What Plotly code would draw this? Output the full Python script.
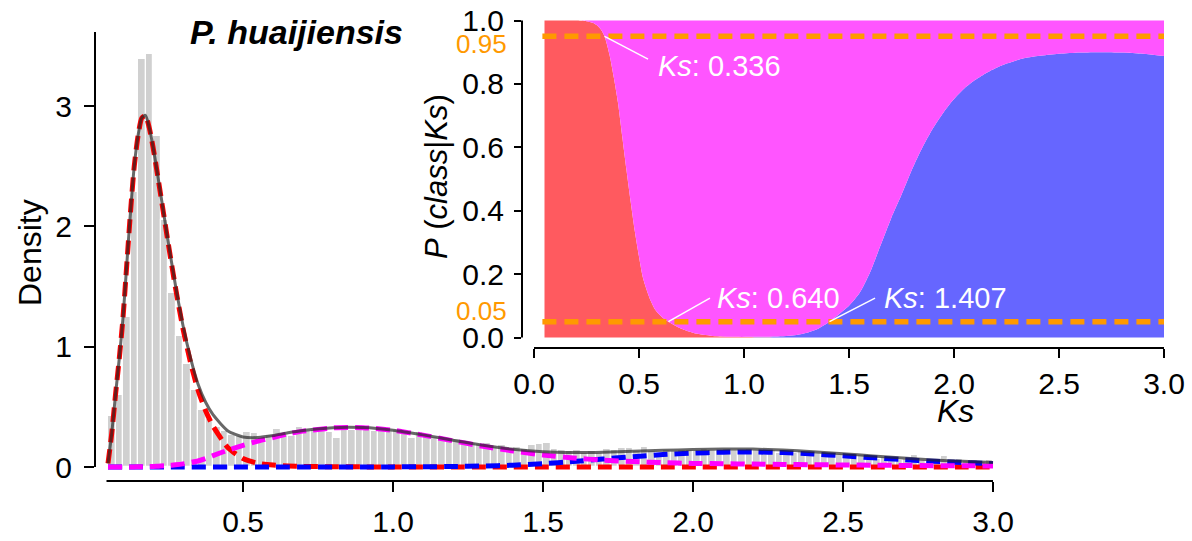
import plotly.graph_objects as go

W, H = 1192, 541
FONT = "Liberation Sans, Arial, Helvetica, sans-serif"

# ---- Ks histogram (density), bins of width 0.025 starting at Ks = 0.05 ----
BIN_START = 0.05
BIN_WIDTH = 0.025
ks_density = [
    0.42, 0.60, 1.25, 2.29, 3.39, 3.43, 2.75, 2.05, 1.45, 1.09,
    0.86, 0.64, 0.47, 0.40, 0.33, 0.30, 0.27, 0.26, 0.29, 0.28,
    0.24, 0.27, 0.32, 0.27, 0.26, 0.33, 0.30, 0.31, 0.31, 0.29,
    0.24, 0.32, 0.31, 0.33, 0.31, 0.30, 0.32, 0.30, 0.31, 0.28,
    0.24, 0.29, 0.26, 0.25, 0.23, 0.22, 0.23, 0.21, 0.20, 0.19,
    0.20, 0.17, 0.18, 0.16, 0.17, 0.15, 0.18, 0.19, 0.20, 0.15,
    0.14, 0.13, 0.14, 0.12, 0.13, 0.12, 0.15, 0.14, 0.16, 0.16,
    0.13, 0.17, 0.13, 0.12, 0.14, 0.13, 0.14, 0.14, 0.13, 0.15,
    0.14, 0.13, 0.15, 0.14, 0.13, 0.15, 0.14, 0.13, 0.14, 0.12,
    0.13, 0.12, 0.13, 0.11, 0.12, 0.11, 0.10, 0.11, 0.10, 0.09,
    0.10, 0.08, 0.07, 0.08, 0.07, 0.06, 0.07, 0.10, 0.06, 0.05,
    0.06, 0.09, 0.07, 0.07, 0.05, 0.06, 0.04, 0.06,
]

# ---- fitted mixture components on a Ks grid ----
ks_grid = [
    0.05, 0.0625, 0.075, 0.0875, 0.1, 0.1125, 0.125, 0.1375, 0.15, 0.1625,
    0.175, 0.1875, 0.2, 0.2125, 0.225, 0.25, 0.275, 0.3, 0.325, 0.35,
    0.375, 0.4, 0.45, 0.5, 0.55, 0.6, 0.65, 0.7, 0.8, 0.9,
    1.0, 1.1, 1.2, 1.3, 1.4, 1.5, 1.6, 1.7, 1.8, 1.9,
    2.0, 2.1, 2.2, 2.3, 2.4, 2.5, 2.6, 2.7, 2.8, 2.9, 3.0,
]
fit_early = [
    0.03, 0.28, 0.60, 0.90, 1.24, 1.68, 2.12, 2.50, 2.75, 2.90,
    2.92, 2.82, 2.66, 2.47, 2.27, 1.87, 1.49, 1.15, 0.87, 0.64,
    0.47, 0.34, 0.16, 0.07, 0.03, 0.016, 0.009, 0.005, 0.002, 0.001,
    0.0, 0.0, 0.0, 0.0, 0.0, 0.0, 0.0, 0.0, 0.0, 0.0,
    0.0, 0.0, 0.0, 0.0, 0.0, 0.0, 0.0, 0.0, 0.0, 0.0, 0.0,
]
fit_mid = [
    0.0, 0.0, 0.0, 0.0, 0.0, 0.001, 0.001, 0.001, 0.002, 0.002,
    0.003, 0.004, 0.005, 0.006, 0.008, 0.012, 0.018, 0.026, 0.037, 0.05,
    0.07, 0.095, 0.14, 0.18, 0.215, 0.245, 0.275, 0.298, 0.325, 0.327,
    0.305, 0.265, 0.218, 0.172, 0.133, 0.10, 0.075, 0.057, 0.045, 0.036,
    0.03, 0.027, 0.024, 0.021, 0.019, 0.017, 0.015, 0.013, 0.011, 0.01, 0.009,
]
fit_old = [
    0.0, 0.0, 0.0, 0.0, 0.0, 0.0, 0.0, 0.0, 0.0, 0.0,
    0.0, 0.0, 0.0, 0.0, 0.0, 0.0, 0.0, 0.0, 0.0, 0.0,
    0.0, 0.0, 0.0, 0.0, 0.0, 0.0, 0.0, 0.0, 0.0, 0.0,
    0.001, 0.002, 0.004, 0.008, 0.015, 0.027, 0.045, 0.066, 0.086, 0.103,
    0.115, 0.123, 0.125, 0.12, 0.108, 0.093, 0.077, 0.062, 0.048, 0.037, 0.028,
]

# ---- posterior class probabilities P(class | Ks) ----
post_ks = [
    0.05, 0.1, 0.15, 0.2, 0.25, 0.28, 0.3, 0.32, 0.336, 0.36,
    0.38, 0.4, 0.42, 0.44, 0.46, 0.48, 0.5, 0.52, 0.55, 0.58,
    0.61, 0.64, 0.7, 0.76, 0.85, 0.95, 1.05, 1.15, 1.25, 1.3,
    1.35, 1.407, 1.45, 1.5, 1.55, 1.6, 1.65, 1.7, 1.75, 1.8,
    1.85, 1.9, 1.95, 2.0, 2.05, 2.1, 2.15, 2.2, 2.25, 2.3,
    2.35, 2.4, 2.5, 2.6, 2.7, 2.8, 2.9, 3.0,
]
post_early = [
    1.0, 1.0, 1.0, 1.0, 0.998, 0.993, 0.985, 0.97, 0.95, 0.89,
    0.82, 0.74, 0.635, 0.53, 0.43, 0.335, 0.255, 0.185, 0.125, 0.085,
    0.064, 0.05, 0.028, 0.014, 0.005, 0.002, 0.001, 0.0, 0.0, 0.0,
    0.0, 0.0, 0.0, 0.0, 0.0, 0.0, 0.0, 0.0, 0.0, 0.0,
    0.0, 0.0, 0.0, 0.0, 0.0, 0.0, 0.0, 0.0, 0.0, 0.0,
    0.0, 0.0, 0.0, 0.0, 0.0, 0.0, 0.0, 0.0,
]
post_old = [
    0.0, 0.0, 0.0, 0.0, 0.0, 0.0, 0.0, 0.0, 0.0, 0.0,
    0.0, 0.0, 0.0, 0.0, 0.0, 0.0, 0.0, 0.0, 0.0, 0.0,
    0.0, 0.0, 0.0, 0.0, 0.0, 0.0, 0.001, 0.003, 0.008, 0.015,
    0.027, 0.05, 0.072, 0.10, 0.14, 0.205, 0.29, 0.375, 0.45, 0.53,
    0.60, 0.66, 0.71, 0.752, 0.786, 0.812, 0.833, 0.85, 0.864, 0.875,
    0.883, 0.888, 0.895, 0.899, 0.90, 0.899, 0.895, 0.888,
]

# class boundaries (Ks where the posterior crosses a threshold)
cut_ks = [0.336, 0.640, 1.407]
cut_p = [0.95, 0.05, 0.05]
thresholds = [0.95, 0.05]


def px(x):
    return x / W


def py(y):
    return 1 - y / H


fig = go.Figure()

# histogram
bin_mid = [BIN_START + BIN_WIDTH * (i + 0.5) for i in range(len(ks_density))]
fig.add_trace(go.Bar(
    x=bin_mid, y=ks_density, width=BIN_WIDTH,
    marker=dict(color="#D0D0D0", line=dict(color="white", width=1.2)),
    xaxis="x", yaxis="y",
))

# component densities (dashed), then the mixture total on top
for vals, col in [(fit_early, "#FF0000"), (fit_old, "#0000FF"), (fit_mid, "#FF00FF")]:
    fig.add_trace(go.Scatter(
        x=ks_grid, y=vals, mode="lines",
        line=dict(color=col, width=5, dash="14px,7px", shape="spline", smoothing=0.6),
        xaxis="x", yaxis="y",
    ))
fit_total = [a + b + c for a, b, c in zip(fit_early, fit_mid, fit_old)]
fig.add_trace(go.Scatter(
    x=ks_grid, y=fit_total, mode="lines",
    line=dict(color="rgba(40,40,40,0.7)", width=3, shape="spline", smoothing=0.6),
    xaxis="x", yaxis="y",
))

# inset: stacked posterior areas
cum_old = [a + b for a, b in zip(post_early, post_old)]
fig.add_trace(go.Scatter(
    x=post_ks, y=post_early, mode="lines", fill="tozeroy",
    fillcolor="#FF5A5F", line=dict(width=0, shape="spline", smoothing=0.7),
    xaxis="x2", yaxis="y2",
))
fig.add_trace(go.Scatter(
    x=post_ks, y=cum_old, mode="lines", fill="tonexty",
    fillcolor="#6666FF", line=dict(width=0, shape="spline", smoothing=0.7),
    xaxis="x2", yaxis="y2",
))
fig.add_trace(go.Scatter(
    x=post_ks, y=[1.0] * len(post_ks), mode="lines", fill="tonexty",
    fillcolor="#FF55FF", line=dict(width=0),
    xaxis="x2", yaxis="y2",
))
for t in thresholds:
    fig.add_trace(go.Scatter(
        x=[0.04, 3.0], y=[t, t], mode="lines",
        line=dict(color="#FF9900", width=5.5, dash="14px,8px"),
        xaxis="x2", yaxis="y2",
    ))

tick_font = dict(family=FONT, size=30, color="black")
common = dict(showgrid=False, zeroline=False, showline=False, ticks="outside",
              tickwidth=2, tickcolor="black", tickfont=tick_font)

shapes = [
    # main axes (detached, R style)
    dict(type="line", xref="paper", yref="y", x0=px(95), x1=px(95), y0=0, y1=435 / 120.3,
         line=dict(color="black", width=2)),
    dict(type="line", xref="x", yref="paper", x0=0.045, x1=3.0, y0=py(481), y1=py(481),
         line=dict(color="black", width=2)),
    # inset axes
    dict(type="line", xref="paper", yref="y2", x0=px(522), x1=px(522), y0=0, y1=1,
         line=dict(color="black", width=2)),
    dict(type="line", xref="x2", yref="paper", x0=0, x1=3.0, y0=py(348), y1=py(348),
         line=dict(color="black", width=2)),
]

# leader lines from the threshold crossings to their labels
label_pos = [(0.543, 0.878, 0.581, 0.858), (0.838, 0.124, 0.862, 0.124), (1.624, 0.124, 1.657, 0.124)]
annotations = []
for k, p, (lx, ly, tx, ty) in zip(cut_ks, cut_p, label_pos):
    shapes.append(dict(type="line", xref="x2", yref="y2", x0=k, y0=p, x1=lx, y1=ly,
                       line=dict(color="white", width=1.5)))
    annotations.append(dict(
        xref="x2", yref="y2", x=tx, y=ty, xanchor="left", yanchor="middle",
        text=f"<i>Ks</i>: {k:.3f}", showarrow=False,
        font=dict(family=FONT, size=29, color="white"),
    ))

annotations += [
    dict(xref="paper", yref="paper", x=px(296), y=py(32), xanchor="center", yanchor="middle",
         text="<b><i>P. huaijiensis</i></b>", showarrow=False,
         font=dict(family=FONT, size=34, color="black")),
    dict(xref="paper", yref="paper", x=px(30), y=py(252), xanchor="center", yanchor="middle",
         text="Density", textangle=-90, showarrow=False,
         font=dict(family=FONT, size=32, color="black")),
    dict(xref="paper", yref="paper", x=px(437), y=py(177), xanchor="center", yanchor="middle",
         text="<i>P</i> (<i>class</i>|<i>Ks</i>)", textangle=-90, showarrow=False,
         font=dict(family=FONT, size=31, color="black")),
    dict(xref="paper", yref="paper", x=px(955), y=py(411), xanchor="center", yanchor="middle",
         text="<i>Ks</i>", showarrow=False,
         font=dict(family=FONT, size=32, color="black")),
    dict(xref="paper", yref="paper", x=px(508), y=py(44), xanchor="right", yanchor="middle",
         text="0.95", showarrow=False, borderpad=0,
         font=dict(family=FONT, size=26, color="#FF9900")),
    dict(xref="paper", yref="paper", x=px(508), y=py(311), xanchor="right", yanchor="middle",
         text="0.05", showarrow=False, borderpad=0,
         font=dict(family=FONT, size=26, color="#FF9900")),
]

fig.update_layout(
    width=W, height=H,
    margin=dict(l=0, r=0, t=0, b=0, autoexpand=False),
    paper_bgcolor="white", plot_bgcolor="white",
    showlegend=False, bargap=0,
    font=dict(family=FONT, color="black"),
    xaxis=dict(domain=[px(95), px(1000)], range=[0.5 - 148 / 300, 0.5 + 757 / 300], anchor="y",
               tickvals=[0.5, 1.0, 1.5, 2.0, 2.5, 3.0],
               ticktext=["0.5", "1.0", "1.5", "2.0", "2.5", "3.0"],
               ticklen=10, ticklabelstandoff=4, automargin=False, **common),
    yaxis=dict(domain=[py(481), py(32)], range=[-14 / 120.3, 435 / 120.3], anchor="x",
               tickvals=[0, 1, 2, 3], ticktext=["0", "1", "2", "3"],
               ticklen=10, ticklabelstandoff=6, automargin=False, **common),
    xaxis2=dict(domain=[px(522), px(1166)], range=[-12 / 210, 3 + 2 / 210], anchor="y2",
                tickvals=[0, 0.5, 1.0, 1.5, 2.0, 2.5, 3.0],
                ticktext=["0.0", "0.5", "1.0", "1.5", "2.0", "2.5", "3.0"],
                ticklen=9, ticklabelstandoff=0, automargin=False, **common),
    yaxis2=dict(domain=[py(348), py(18)], range=[-10.5 / 317, 1 + 2.5 / 317], anchor="x2",
                tickvals=[0, 0.2, 0.4, 0.6, 0.8, 1.0],
                ticktext=["0.0", "0.2", "0.4", "0.6", "0.8", "1.0"],
                ticklen=7, ticklabelstandoff=4, automargin=False, **common),
    shapes=shapes,
    annotations=annotations,
)

fig.write_html("out.html", config={"displayModeBar": False})
